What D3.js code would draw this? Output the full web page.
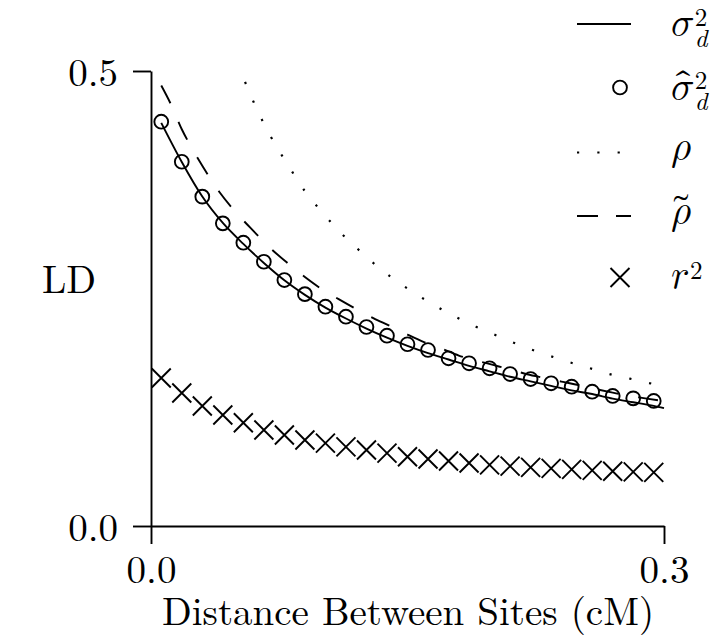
<!DOCTYPE html>
<html><head><meta charset="utf-8">
<script src="https://cdn.jsdelivr.net/npm/d3@7"></script>
<style>
html,body{margin:0;padding:0;background:#fff;}
svg{display:block;}
</style></head><body>
<svg id="chart" width="712" height="638"></svg>
<script>
// ---- data ----
const xTicks = [0.0, 0.3];
const yTicks = [0.0, 0.5];
const xLabel = "Distance Between Sites (cM)";
const yLabel = "LD";

// marker positions (distance, cM)
const distances = [0.006,0.018,0.030,0.042,0.054,0.066,0.078,0.090,0.102,0.114,0.126,0.138,0.150,
                   0.162,0.174,0.186,0.198,0.210,0.222,0.234,0.246,0.258,0.270,0.282,0.294];
// sigma-hat_d^2 (circles)
const sigmaHatValues = [0.4443,0.4003,0.3619,0.3326,0.3113,0.2904,0.2703,0.2548,0.2410,0.2300,0.2187,0.2091,0.1997,
                        0.1934,0.1843,0.1788,0.1733,0.1670,0.1615,0.1568,0.1531,0.1476,0.1429,0.1403,0.1374];
// r^2 (crosses)
const r2Values = [0.1626,0.1462,0.1319,0.1220,0.1135,0.1055,0.1000,0.0945,0.0910,0.0870,0.0835,0.0800,0.0761,
                  0.0736,0.0714,0.0692,0.0672,0.0658,0.0645,0.0634,0.0622,0.0611,0.0602,0.0595,0.0590];

// sigma_d^2 (solid line)
const sigmaX = [0.006,0.018,0.030,0.042,0.054,0.066,0.078,0.090,0.102,0.114,0.126,0.138,0.150,
                0.162,0.174,0.186,0.198,0.210,0.222,0.234,0.246,0.258,0.270,0.282,0.294,0.300];
const sigmaValues = [0.443,0.400,0.362,0.333,0.310,0.289,0.270,0.254,0.240,0.228,0.217,0.207,0.198,
                     0.190,0.183,0.176,0.170,0.164,0.159,0.154,0.149,0.145,0.140,0.136,0.132,0.1295];

// rho (dotted line)
const rhoX = [0.055,0.060,0.065,0.070,0.080,0.090,0.100,0.110,0.120,0.130,0.140,0.150,0.160,
              0.170,0.180,0.190,0.200,0.210,0.220,0.230,0.240,0.250,0.260,0.270,0.280,0.290,0.300];
const rhoValues = [0.488,0.466,0.446,0.428,0.397,0.368,0.345,0.324,0.306,0.289,0.274,0.261,0.249,
                   0.238,0.228,0.219,0.211,0.203,0.1955,0.189,0.1827,0.177,0.1715,0.166,0.162,0.1576,0.1535];

// rho-tilde (dashed line)
const rhoTildeX = [0.006,0.012,0.018,0.024,0.030,0.040,0.050,0.060,0.070,0.080,0.090,0.100,0.110,0.120,
                   0.130,0.140,0.150,0.160,0.170,0.180,0.190,0.200,0.210,0.220,0.230,0.240,0.250,
                   0.260,0.270,0.280,0.290,0.300];
const rhoTildeValues = [0.484,0.462,0.436,0.415,0.396,0.367,0.344,0.324,0.305,0.2887,0.2736,0.2601,0.2490,0.2384,
                        0.2285,0.2197,0.2104,0.2018,0.1948,0.1873,0.1820,0.1770,0.1720,0.1668,0.1627,0.1587,0.1549,
                        0.1505,0.1465,0.1429,0.1400,0.1372];

const legendItems = [
  {type:"solid",  main:"\u{1D70E}", sup:"2", sub:"d"},
  {type:"circle", main:"\u{1D70E}\u0302", sup:"2", sub:"d"},
  {type:"dotted", main:"\u{1D70C}"},
  {type:"dashed", main:"\u{1D70C}\u0303"},
  {type:"cross",  main:"\u{1D45F}", sup:"2"}
];

// ---- drawing ----
const ROMAN = '"Latin Modern Roman", "Liberation Serif", serif';
const MATH = '"Latin Modern Math", "STIX Two Math", "Noto Sans Math", "DejaVu Serif", serif';
const svg = d3.select("#chart");
const x = d3.scaleLinear().domain([0, 0.3]).range([151, 664]);
const y = d3.scaleLinear().domain([0, 0.5]).range([526, 71]);
const SW = 1.9;
const FS = 39;

const xAxis = d3.axisBottom(x).tickValues(xTicks).tickFormat(d3.format(".1f"))
  .tickSizeInner(18).tickSizeOuter(0).tickPadding(11);
const yAxis = d3.axisLeft(y).tickValues(yTicks).tickFormat(d3.format(".1f"))
  .tickSizeInner(18).tickSizeOuter(0).tickPadding(15);

const gx = svg.append("g").attr("transform", `translate(0,${y(0)})`).call(xAxis);
const gy = svg.append("g").attr("transform", `translate(${x(0)},0)`).call(yAxis);
[gx, gy].forEach(g => {
  g.select(".domain").attr("stroke", "#000").attr("stroke-width", SW);
  g.selectAll(".tick line").attr("stroke", "#000").attr("stroke-width", SW);
  g.selectAll(".tick text").style("font-family", ROMAN).style("font-size", FS + "px").attr("fill", "#000");
});
gy.selectAll(".tick text").attr("dy", "0.36em");

svg.append("text").attr("x", (x(0) + x(0.3)) / 2 + 0.5).attr("y", 625)
  .attr("text-anchor", "middle").style("font-family", ROMAN).style("font-size", FS + "px").text(xLabel);
svg.append("text").attr("x", 69).attr("y", 293)
  .attr("text-anchor", "middle").style("font-family", ROMAN).style("font-size", FS + "px").text(yLabel);

const line = d3.line().x(d => x(d[0])).y(d => y(d[1])).curve(d3.curveMonotoneX);

svg.append("path").datum(d3.zip(rhoX, rhoValues)).attr("d", line)
  .attr("fill", "none").attr("stroke", "#000").attr("stroke-width", 2.2)
  .attr("stroke-dasharray", "2.2,18.1");
svg.append("path").datum(d3.zip(rhoTildeX, rhoTildeValues)).attr("d", line)
  .attr("fill", "none").attr("stroke", "#000").attr("stroke-width", SW)
  .attr("stroke-dasharray", "20,20");
svg.append("path").datum(d3.zip(sigmaX, sigmaValues)).attr("d", line)
  .attr("fill", "none").attr("stroke", "#000").attr("stroke-width", SW);

svg.append("g").selectAll("circle").data(d3.zip(distances, sigmaHatValues)).join("circle")
  .attr("cx", d => x(d[0])).attr("cy", d => y(d[1])).attr("r", 6.9)
  .attr("fill", "none").attr("stroke", "#000").attr("stroke-width", SW);

const crossPath = "M-9.5,-9.5L9.5,9.5M-9.5,9.5L9.5,-9.5";
svg.append("g").selectAll("path").data(d3.zip(distances, r2Values)).join("path")
  .attr("transform", d => `translate(${x(d[0])},${y(d[1])})`).attr("d", crossPath)
  .attr("fill", "none").attr("stroke", "#000").attr("stroke-width", SW);

// legend
const rowY = [24, 87.5, 152.5, 216, 277.5];
const baseOff = [11, 11, 6.5, 6.5, 10.5];
const lx0 = 577, lx1 = 631, mx = 620, tx = 671;
const lg = svg.append("g");
legendItems.forEach((it, i) => {
  const ry = rowY[i];
  if (it.type === "solid" || it.type === "dotted" || it.type === "dashed") {
    const p = lg.append("line").attr("x1", lx0).attr("x2", lx1).attr("y1", ry).attr("y2", ry)
      .attr("stroke", "#000");
    if (it.type === "solid") p.attr("stroke-width", SW);
    if (it.type === "dotted") p.attr("stroke-width", 2.2).attr("stroke-dasharray", "2.2,18.1");
    if (it.type === "dashed") p.attr("stroke-width", SW).attr("stroke-dasharray", "21,18");
  } else if (it.type === "circle") {
    lg.append("circle").attr("cx", mx).attr("cy", ry).attr("r", 6.9)
      .attr("fill", "none").attr("stroke", "#000").attr("stroke-width", SW);
  } else if (it.type === "cross") {
    lg.append("path").attr("transform", `translate(${mx},${ry})`).attr("d", crossPath)
      .attr("fill", "none").attr("stroke", "#000").attr("stroke-width", SW);
  }
  const by = ry + baseOff[i];
  const t = lg.append("text").attr("x", tx).attr("y", by).style("font-family", MATH).style("font-size", FS + "px");
  t.append("tspan").text(it.main);
  if (it.sup) {
    t.append("tspan").attr("dx", 1.5).attr("dy", -9.5).style("font-family", ROMAN).style("font-size", "25px").text(it.sup);
  }
  if (it.sub) {
    t.append("tspan").attr("dx", -12.5).attr("dy", 21).style("font-family", ROMAN)
      .style("font-style", "italic").style("font-size", "25px").text(it.sub);
  }
});
</script>
</body></html>
